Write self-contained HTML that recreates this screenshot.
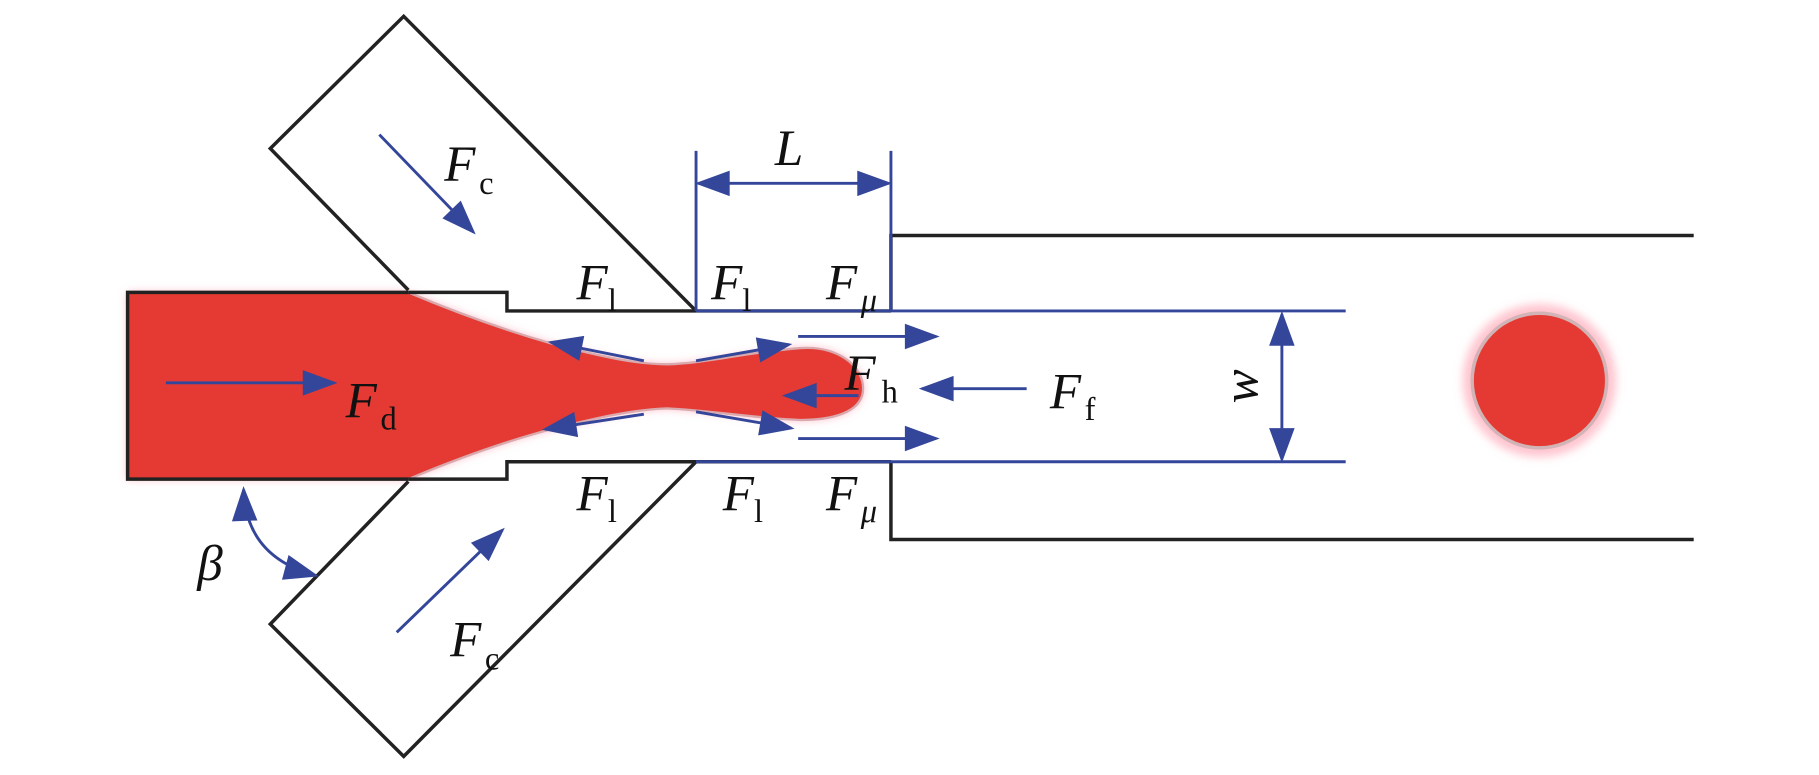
<!DOCTYPE html>
<html><head><meta charset="utf-8"><style>
html,body{margin:0;padding:0;background:#fff;}
svg{display:block;}
text{font-family:"Liberation Serif",serif;fill:#111;}
</style></head><body>
<svg width="1819" height="775" viewBox="0 0 1568 668" xmlns="http://www.w3.org/2000/svg">
<defs>
<filter id="bl" x="-20%" y="-20%" width="140%" height="140%"><feGaussianBlur stdDeviation="4"/></filter>
<marker id="ah" viewBox="0 0 10 10" refX="9" refY="5" markerWidth="30" markerHeight="22" preserveAspectRatio="none" orient="auto-start-reverse" markerUnits="userSpaceOnUse" style="overflow:visible">
<path d="M0,0 L10,5 L0,10 z" fill="#34469a"/></marker>
</defs>
<style>
.ar{stroke:#34469a;stroke-width:2.5;fill:none;}
</style>
<path d="M110,252 L352,252 C390,268 430,283 475,296 C520,308 550,314 575,314 C610,313 640,304 690,300 C722,298 744,315 744,335 C744,352 725,362 690,362 C645,360 615,354 575,352 C545,353 515,360 475,370 C430,382 390,397 352,413 L110,413 Z" fill="#ffb6c4" filter="url(#bl)"/>
<path d="M110,252 L352,252 C390,268 430,283 475,296 C520,308 550,314 575,314 C610,313 640,304 690,300 C722,298 744,315 744,335 C744,352 725,362 690,362 C645,360 615,354 575,352 C545,353 515,360 475,370 C430,382 390,397 352,413 L110,413 Z" fill="#e53a33" stroke="#d9a9ad" stroke-width="2"/>
<g stroke="#222" stroke-width="3" fill="none" stroke-linejoin="miter">
<path d="M352,252 L110,252 L110,413 L352,413"/>
<path d="M352,252 L437,252 L437,268 L600,268"/>
<path d="M352,413 L437,413 L437,398 L600,398"/>
<path d="M352,250 L233,128 L348,14 L600,268"/>
<path d="M352,415 L233,538 L348,652 L600,398"/>
<path d="M600,268 L768,268"/>
<path d="M600,398 L768,398"/>
<path d="M768,268 L768,203 L1460,203"/>
<path d="M768,398 L768,465 L1460,465"/>
</g>
<g stroke="#34469a" stroke-width="2.5" fill="none">
<path d="M600,130 L600,268"/><path d="M768,130 L768,268"/>
<path d="M768,268 L1160,268"/><path d="M768,398 L1160,398"/>
<path d="M600,398 L768,398"/><path d="M600,268 L768,268"/>
</g>
<line class="ar" x1="602" y1="158" x2="766" y2="158" marker-start="url(#ah)" marker-end="url(#ah)"/>
<line class="ar" x1="1105" y1="271" x2="1105" y2="396" marker-start="url(#ah)" marker-end="url(#ah)"/>
<line class="ar" x1="143" y1="330" x2="288" y2="330" marker-end="url(#ah)"/>
<line class="ar" x1="327" y1="116" x2="408" y2="200" marker-end="url(#ah)"/>
<line class="ar" x1="342" y1="545" x2="433" y2="457" marker-end="url(#ah)"/>
<line class="ar" x1="555" y1="311" x2="475" y2="295" marker-end="url(#ah)"/>
<line class="ar" x1="600" y1="311" x2="680" y2="297" marker-end="url(#ah)"/>
<line class="ar" x1="555" y1="357" x2="470" y2="370" marker-end="url(#ah)"/>
<line class="ar" x1="600" y1="355" x2="682" y2="369" marker-end="url(#ah)"/>
<line class="ar" x1="688" y1="290" x2="807" y2="290" marker-end="url(#ah)"/>
<line class="ar" x1="688" y1="378" x2="807" y2="378" marker-end="url(#ah)"/>
<line class="ar" x1="740" y1="341" x2="677" y2="341" marker-end="url(#ah)"/>
<line class="ar" x1="885" y1="335" x2="795" y2="335" marker-end="url(#ah)"/>
<path class="ar" d="M210,422 Q212,480 272,496" marker-start="url(#ah)" marker-end="url(#ah)"/>
<circle cx="1327" cy="328" r="66" fill="#ffc4cf" filter="url(#bl)"/>
<circle cx="1327" cy="328" r="58" fill="#e53a33" stroke="#d2b4b6" stroke-width="3"/>
<g font-size="44" font-style="italic">
<text x="383" y="156">F</text><text x="497" y="258">F</text><text x="613" y="258">F</text><text x="712" y="258">F</text>
<text x="497" y="440">F</text><text x="623" y="440">F</text><text x="712" y="440">F</text>
<text x="298" y="360">F</text><text x="728" y="336">F</text><text x="905" y="352">F</text>
<text x="388" y="566">F</text><text x="170" y="500">β</text><text x="668" y="142">L</text>
<text transform="translate(1084,333) rotate(-90)" text-anchor="middle" x="0" y="0">w</text>
</g>
<g font-size="28">
<text x="413" y="167">c</text><text x="524" y="268">l</text><text x="640" y="268">l</text>
<text x="524" y="450">l</text><text x="650" y="450">l</text>
<text x="328" y="370">d</text><text x="760" y="347">h</text><text x="935" y="362">f</text>
<text x="418" y="577">c</text>
<text x="742" y="268" font-style="italic">μ</text><text x="742" y="450" font-style="italic">μ</text>
</g>
</svg>
</body></html>
